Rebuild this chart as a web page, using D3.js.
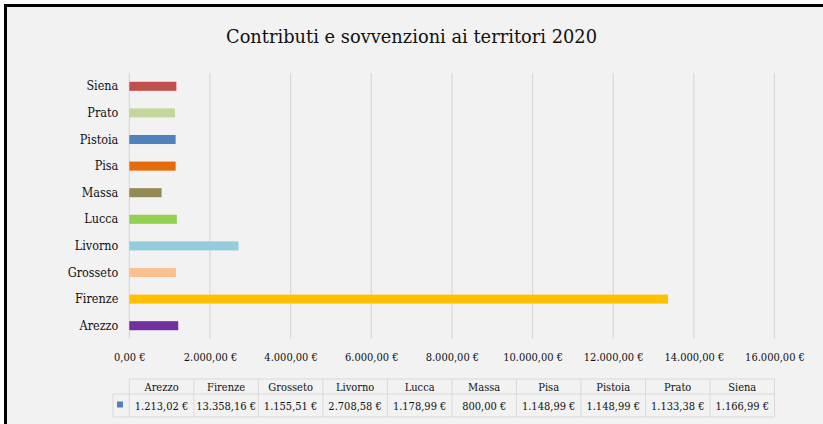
<!DOCTYPE html>
<html><head><meta charset="utf-8">
<script src="https://cdn.jsdelivr.net/npm/d3@7"></script>
<style>
html,body{margin:0;padding:0;background:#fff;}
svg{display:block;}
</style></head>
<body>
<svg id="chart" width="823" height="424"></svg>
<script>
const title = "Contributi e sovvenzioni ai territori 2020";
const categories = ["Arezzo","Firenze","Grosseto","Livorno","Lucca","Massa","Pisa","Pistoia","Prato","Siena"];
const values = [1213.02,13358.16,1155.51,2708.58,1178.99,800.00,1148.99,1148.99,1133.38,1166.99];
const colors = ["#7030a0","#ffc000","#fac090","#93cddd","#92d050","#948a54","#e46c0a","#4f81bd","#c3d69b","#c0504d"];
const xTicks = [0,2000,4000,6000,8000,10000,12000,14000,16000];
const seriesColor = "#4f81bd";

const svg = d3.select("#chart");
const font = "'DejaVu Serif', 'Liberation Serif', serif";
const loc = d3.formatLocale({decimal:",", thousands:".", grouping:[3], currency:["",""]});
const fmt = loc.format(",.2f");

// frame
svg.append("rect").attr("x",5.5).attr("y",5.5).attr("width",840).attr("height",440)
  .attr("fill","#f2f2f2").attr("stroke","#000").attr("stroke-width",3);

const x = d3.scaleLinear().domain([0,16000]).range([129.3,774.5]);
const y = d3.scaleBand().domain(categories.slice().reverse()).range([73,339]).paddingInner(0.66).paddingOuter(0.33);

// gridlines
svg.append("g").selectAll("line").data(xTicks).join("line")
  .attr("x1",d=>x(d)).attr("x2",d=>x(d)).attr("y1",73).attr("y2",339)
  .attr("stroke","#d9d9d9").attr("stroke-width",1.2);

// title
svg.append("text").attr("x",411.5).attr("y",43).attr("text-anchor","middle")
  .attr("font-family",font).attr("font-size",19).attr("fill","#111")
  .attr("textLength",371).attr("lengthAdjust","spacingAndGlyphs").text(title);

// bars
svg.append("g").selectAll("rect").data(categories).join("rect")
  .attr("x",x(0)).attr("y",d=>y(d)).attr("height",y.bandwidth())
  .attr("width",(d,i)=>x(values[i])-x(0)).attr("fill",(d,i)=>colors[i]);

// y axis labels
const yAxis = d3.axisLeft(y).tickSize(0).tickPadding(11);
const gy = svg.append("g").attr("transform",`translate(${x(0)},0)`).call(yAxis);
gy.select(".domain").remove();
gy.selectAll("text").attr("font-family",font).attr("font-size",12.5).attr("fill","#111")
  .style("font-stretch","condensed");

// x axis labels
const xAxis = d3.axisBottom(x).tickValues(xTicks).tickSize(0).tickPadding(0).tickFormat(d=>fmt(d)+" €");
const gx = svg.append("g").attr("transform","translate(0,353)").call(xAxis);
gx.select(".domain").remove();
gx.selectAll("text").attr("font-family",font).attr("font-size",11).attr("fill","#111")
  .style("font-stretch","condensed");

// data table
const colW = (x(16000)-x(0))/categories.length;
const tTop = 379, tMid = 394, tBot = 417, keyLeft = 113;
const tg = svg.append("g");
const lc = "#d9d9d9";
tg.append("line").attr("x1",x(0)).attr("x2",x(16000)).attr("y1",tTop).attr("y2",tTop).attr("stroke",lc);
tg.append("line").attr("x1",keyLeft).attr("x2",x(16000)).attr("y1",tMid).attr("y2",tMid).attr("stroke",lc);
tg.append("line").attr("x1",keyLeft).attr("x2",x(16000)).attr("y1",tBot).attr("y2",tBot).attr("stroke",lc);
tg.append("line").attr("x1",keyLeft).attr("x2",keyLeft).attr("y1",tMid).attr("y2",tBot).attr("stroke",lc);
tg.selectAll("line.v").data(d3.range(categories.length+1)).join("line").attr("class","v")
  .attr("x1",i=>x(0)+i*colW).attr("x2",i=>x(0)+i*colW).attr("y1",tTop).attr("y2",tBot).attr("stroke",lc);
tg.append("rect").attr("x",117).attr("y",401.5).attr("width",6).attr("height",6).attr("fill",seriesColor);
tg.selectAll("text.h").data(categories).join("text").attr("class","h")
  .attr("x",(d,i)=>x(0)+(i+0.5)*colW).attr("y",391).attr("text-anchor","middle")
  .attr("font-family",font).attr("font-size",11).style("font-stretch","condensed").attr("fill","#111").text(d=>d);
tg.selectAll("text.v").data(values).join("text").attr("class","v")
  .attr("x",(d,i)=>x(0)+(i+0.5)*colW).attr("y",410).attr("text-anchor","middle")
  .attr("font-family",font).attr("font-size",11).style("font-stretch","condensed").attr("fill","#111")
  .text(d=>fmt(d)+" €");
</script>
</body></html>
